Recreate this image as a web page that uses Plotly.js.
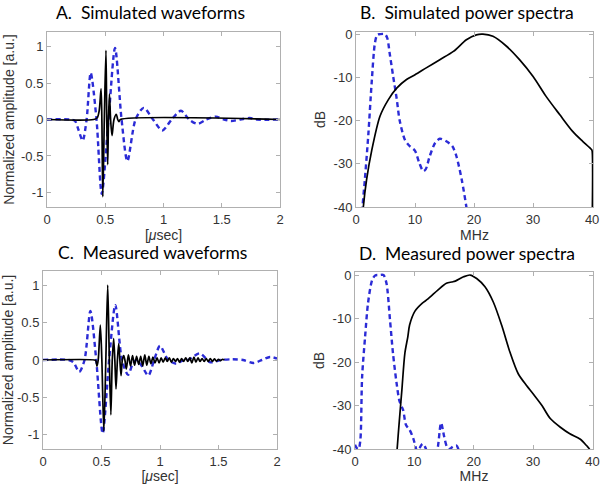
<!DOCTYPE html>
<html>
<head>
<meta charset="utf-8">
<script src="https://cdn.plot.ly/plotly-3.0.1.min.js"></script>
<style>html,body{margin:0;padding:0;background:#fff;}#chart{width:600px;height:484px;}</style>
</head>
<body>
<div id="chart"></div>
<script>
// ---------- Panel A: simulated waveforms ----------
const A_blue_t = [0, 0.2, 0.24, 0.27, 0.306, 0.34, 0.375, 0.425, 0.47, 0.528, 0.584, 0.64, 0.69, 0.76, 0.83, 0.91, 0.99, 1.07, 1.15, 1.22, 1.29, 1.37, 1.45, 1.52, 1.58, 1.66, 1.74, 1.8, 2];
const A_blue_y = [0, 0, -0.02, -0.14, -0.29, 0, 0.64, 0, -1.02, 0, 0.98, 0, -0.57, 0, 0.16, 0, -0.15, 0, 0.12, 0, -0.06, 0, 0.04, 0, -0.02, 0, 0.02, 0, 0];
const A_black_t = [0, 0.40, 0.43, 0.448, 0.464, 0.471, 0.479, 0.492, 0.506, 0.513, 0.521, 0.528, 0.536, 0.546, 0.558, 0.575, 0.595, 0.607, 0.617, 0.63, 2];
const A_black_y = [0, 0, 0.02, 0.12, 0.42, 0, -1.06, 0, 0.95, 0, -0.62, 0, 0.35, 0, -0.22, 0, 0.07, 0, -0.03, 0, 0];

// ---------- Panel B: simulated power spectra ----------
const B_black_f = [1.0, 1.24, 1.8, 2.65, 4.06, 5.46, 6.9, 8.56, 10, 11.9, 14.2, 16.5, 18.7, 20.4, 21.5, 23.2, 25.5, 27.7, 30, 32.2, 34.5, 36.7, 38.4, 39.9, 40, 40];
const B_black_db = [-45, -40, -33.6, -27, -19, -15.2, -12.5, -10.5, -9.4, -7.8, -5.9, -4, -1.3, -0.15, 0, -0.5, -2.8, -5.9, -9.8, -14.4, -18.6, -22.5, -24.8, -26.7, -27, -45];
const B_blue_f = [0.9, 1.1, 1.5, 2.1, 2.65, 3.2, 3.6, 4.06, 4.9, 5.3, 5.7, 6.3, 6.9, 7.4, 8.3, 9.1, 10, 10.7, 11.4, 11.8, 12.5, 13.4, 14.2, 15.3, 16.3, 17, 17.9, 18.7, 19.2];
const B_blue_db = [-45, -40, -33.7, -23, -11.3, -2.1, -0.15, 0, 0, -0.9, -4.4, -9.8, -15, -20, -24.5, -25.9, -27, -29.7, -31.7, -31.3, -28.2, -25.2, -24.2, -24.8, -25.9, -28.2, -33.6, -40, -45];

// ---------- Panel C: measured waveforms ----------
const C_blue_t = [0, 0.22, 0.26, 0.31, 0.355, 0.405, 0.455, 0.51, 0.565, 0.618, 0.675, 0.727, 0.765, 0.80, 0.845, 0.90, 0.95, 1.0, 1.07, 1.14, 1.19, 1.24, 1.34, 1.43, 1.52, 1.62, 1.71, 1.8, 1.87, 1.94, 2.0];
const C_blue_y = [0, 0, -0.03, -0.16, 0, 0.66, 0, -0.99, 0, 0.74, 0, -0.2, -0.06, 0, -0.08, -0.21, 0, 0.19, 0, -0.05, -0.01, 0, 0.09, -0.03, 0, 0.01, 0, -0.04, 0, 0.04, 0.02];
const C_black_t = [0, 0.44, 0.452, 0.461, 0.472, 0.49, 0.503, 0.52, 0.537, 0.553, 0.567, 0.58, 0.592, 0.604, 0.614, 0.624, 0.636, 0.647, 0.657, 0.667, 0.678, 0.69, 0.70, 0.712,
  0.73, 0.748, 0.765, 0.783, 0.80, 0.818, 0.835, 0.852, 0.87, 0.887, 0.905, 0.922, 0.94, 0.957, 0.975, 0.992, 1.01, 1.027, 1.045, 1.062, 1.08, 1.097, 1.115, 1.132, 1.15, 1.167, 1.185, 1.202, 1.22, 1.237, 1.255, 1.272, 1.29, 1.307, 1.325, 1.342, 1.36, 1.377, 1.395, 1.412, 1.43, 1.447, 1.465, 1.482, 1.50, 1.517, 1.535, 1.55];
const C_black_y = [0, 0, -0.01, -0.085, 0, 0.47, 0, -0.96, 0, 1.01, 0, -0.74, 0, 0.29, 0, -0.39, 0, 0.22, 0, -0.21, 0, 0.06, 0, -0.12,
  0.07, -0.08, 0.06, -0.07, 0.05, -0.06, 0.05, -0.08, 0.07, -0.07, 0.05, -0.05, 0.04, -0.04, 0.03, -0.04, 0.03, -0.03, 0.03, -0.02, 0.03, -0.03, 0.02, -0.02, 0.02, -0.03, 0.02, -0.02, 0.03, -0.02, 0.03, -0.04, 0.04, -0.03, 0.03, -0.02, 0.02, -0.02, 0.02, -0.02, 0.02, -0.02, 0.015, -0.015, 0.01, -0.01, 0.01, 0];

// ---------- Panel D: measured power spectra ----------
const D_black_f = [6.9, 7.1, 7.5, 7.9, 8.4, 8.9, 9.2, 10.1, 11.3, 12.3, 14, 15.4, 16.3, 16.9, 18.3, 19.4, 20.5, 21.9, 23.3, 24.7, 26.1, 27.5, 28.9, 30, 31.5, 32.9, 34.6, 36.2, 37.9, 39, 39.5, 39.8];
const D_black_db = [-45, -40, -33, -26.4, -18, -14.2, -11.5, -8.3, -6.5, -5.5, -3.4, -1.9, -1.6, -1.4, -0.4, 0, -0.8, -2.7, -6.2, -11.5, -17.7, -22.7, -25.4, -27.3, -30, -33, -35, -36.5, -37.7, -39.2, -40, -42];
const D_blue_f = [0, 0.3, 0.6, 0.9, 1.2, 1.7, 2.2, 2.9, 3.4, 4.1, 4.8, 5.3, 5.9, 6.4, 7.0, 7.5, 8.1, 8.6, 9.2, 9.8, 10.3, 10.6, 11.0, 11.4, 11.8, 12.2, 12.8, 13.4, 13.9, 14.5, 15.0, 15.5, 16.0, 16.5, 17.1, 17.4, 17.9];
const D_blue_db = [-39, -39.8, -40, -38, -23.4, -14.2, -6.4, -1.1, -0.1, 0, 0, -1.9, -10.4, -18, -24.8, -29, -31, -34.5, -35.6, -37.5, -40, -41.5, -39.5, -38.8, -39.5, -41, -44, -42, -40, -34, -37, -39.5, -40, -39.4, -39.2, -40, -44];

// ---------- tick labels ----------
const wave_xticks = [0, 0.5, 1, 1.5, 2];
const wave_xlabels = ['0', '0.5', '1', '1.5', '2'];
const wave_yticks = [-1, -0.5, 0, 0.5, 1];
const wave_ylabels = ['-1', '-0.5', '0', '0.5', '1'];
const spec_xticks = [0, 10, 20, 30, 40];
const spec_xlabels = ['0', '10', '20', '30', '40'];
const spec_yticks = [-40, -30, -20, -10, 0];
const spec_ylabels = ['-40', '-30', '-20', '-10', '0'];

const panelTitles = ['A.  Simulated waveforms', 'B.  Simulated power spectra', 'C.  Measured waveforms', 'D.  Measured power spectra'];

const BLUE = '#2b2bd6';
const BLACK = '#000000';
const dashStyle = '5px,3.5px';

function blueTrace(x, y, xa, ya) {
  return {x: x, y: y, xaxis: xa, yaxis: ya, type: 'scatter', mode: 'lines',
    line: {color: BLUE, width: 2.4, dash: dashStyle, shape: 'spline', smoothing: 0.8}, hoverinfo: 'skip'};
}
function blackTrace(x, y, xa, ya) {
  return {x: x, y: y, xaxis: xa, yaxis: ya, type: 'scatter', mode: 'lines',
    line: {color: BLACK, width: 1.7, shape: 'spline', smoothing: 0.8}, hoverinfo: 'skip'};
}

const data = [
  blueTrace(A_blue_t, A_blue_y, 'x', 'y'),
  blackTrace(A_black_t, A_black_y, 'x', 'y'),
  blueTrace(B_blue_f, B_blue_db, 'x2', 'y2'),
  blackTrace(B_black_f, B_black_db, 'x2', 'y2'),
  blueTrace(C_blue_t, C_blue_y, 'x3', 'y3'),
  blackTrace(C_black_t, C_black_y, 'x3', 'y3'),
  blueTrace(D_blue_f, D_blue_db, 'x4', 'y4'),
  blackTrace(D_black_f, D_black_db, 'x4', 'y4')
];

const W = 600, H = 484;
function dx(a, b) { return [a / W, b / W]; }
function dy(top, bottom) { return [1 - bottom / H, 1 - top / H]; }

const tickFont = {family: 'Liberation Sans, Arial, sans-serif', size: 13, color: '#333333'};
const titleFont = {family: 'Liberation Sans, Arial, sans-serif', size: 14, color: '#333333'};

function axis(domain, anchor, range, tv, tt, title, standoff) {
  return {domain: domain, anchor: anchor, range: range, tickvals: tv, ticktext: tt,
    showline: true, mirror: 'ticks', linecolor: '#b0b0b0', linewidth: 1,
    ticks: 'inside', ticklen: 4, tickcolor: '#b0b0b0', showgrid: false, zeroline: false,
    ticklabeloverflow: 'allow',
    tickfont: tickFont, title: {text: title, font: titleFont, standoff: standoff}, fixedrange: true};
}

const titleAnnFont = {family: 'Lato, Open Sans, sans-serif', size: 17.5, color: '#000'};
function titleAnn(text, cx, cy) {
  return {text: text, xref: 'paper', yref: 'paper', x: cx / W, y: 1 - cy / H,
    xanchor: 'center', yanchor: 'middle', showarrow: false, font: titleAnnFont};
}

const layout = {
  width: W, height: H,
  margin: {l: 0, r: 0, t: 0, b: 0},
  paper_bgcolor: '#ffffff', plot_bgcolor: '#ffffff',
  showlegend: false,
  xaxis: axis(dx(47, 280), 'y', [0, 2], wave_xticks, wave_xlabels, '[<i>μ</i>sec]', 4),
  yaxis: axis(dy(32, 207), 'x', [-1.2, 1.2], wave_yticks, wave_ylabels, 'Normalized amplitude [a.u.]', 3),
  xaxis2: axis(dx(356, 593), 'y2', [0, 40.15], spec_xticks, spec_xlabels, 'MHz', 0),
  yaxis2: axis(dy(32, 207), 'x2', [-40, 0.5], spec_yticks, spec_ylabels, 'dB', 4),
  xaxis3: axis(dx(43, 277), 'y3', [0, 2], wave_xticks, wave_xlabels, '[<i>μ</i>sec]', 4),
  yaxis3: axis(dy(271, 449), 'x3', [-1.2, 1.2], wave_yticks, wave_ylabels, 'Normalized amplitude [a.u.]', 3),
  xaxis4: axis(dx(355, 593), 'y4', [0, 40.1], spec_xticks, spec_xlabels, 'MHz', 0),
  yaxis4: axis(dy(272, 449), 'x4', [-40, 0.7], spec_yticks, spec_ylabels, 'dB', 4),
  annotations: [
    titleAnn(panelTitles[0], 150, 12),
    titleAnn(panelTitles[1], 467, 12),
    titleAnn(panelTitles[2], 152, 252),
    titleAnn(panelTitles[3], 467, 253)
  ]
};

Plotly.newPlot('chart', data, layout, {displayModeBar: false, staticPlot: true});
</script>
</body>
</html>
